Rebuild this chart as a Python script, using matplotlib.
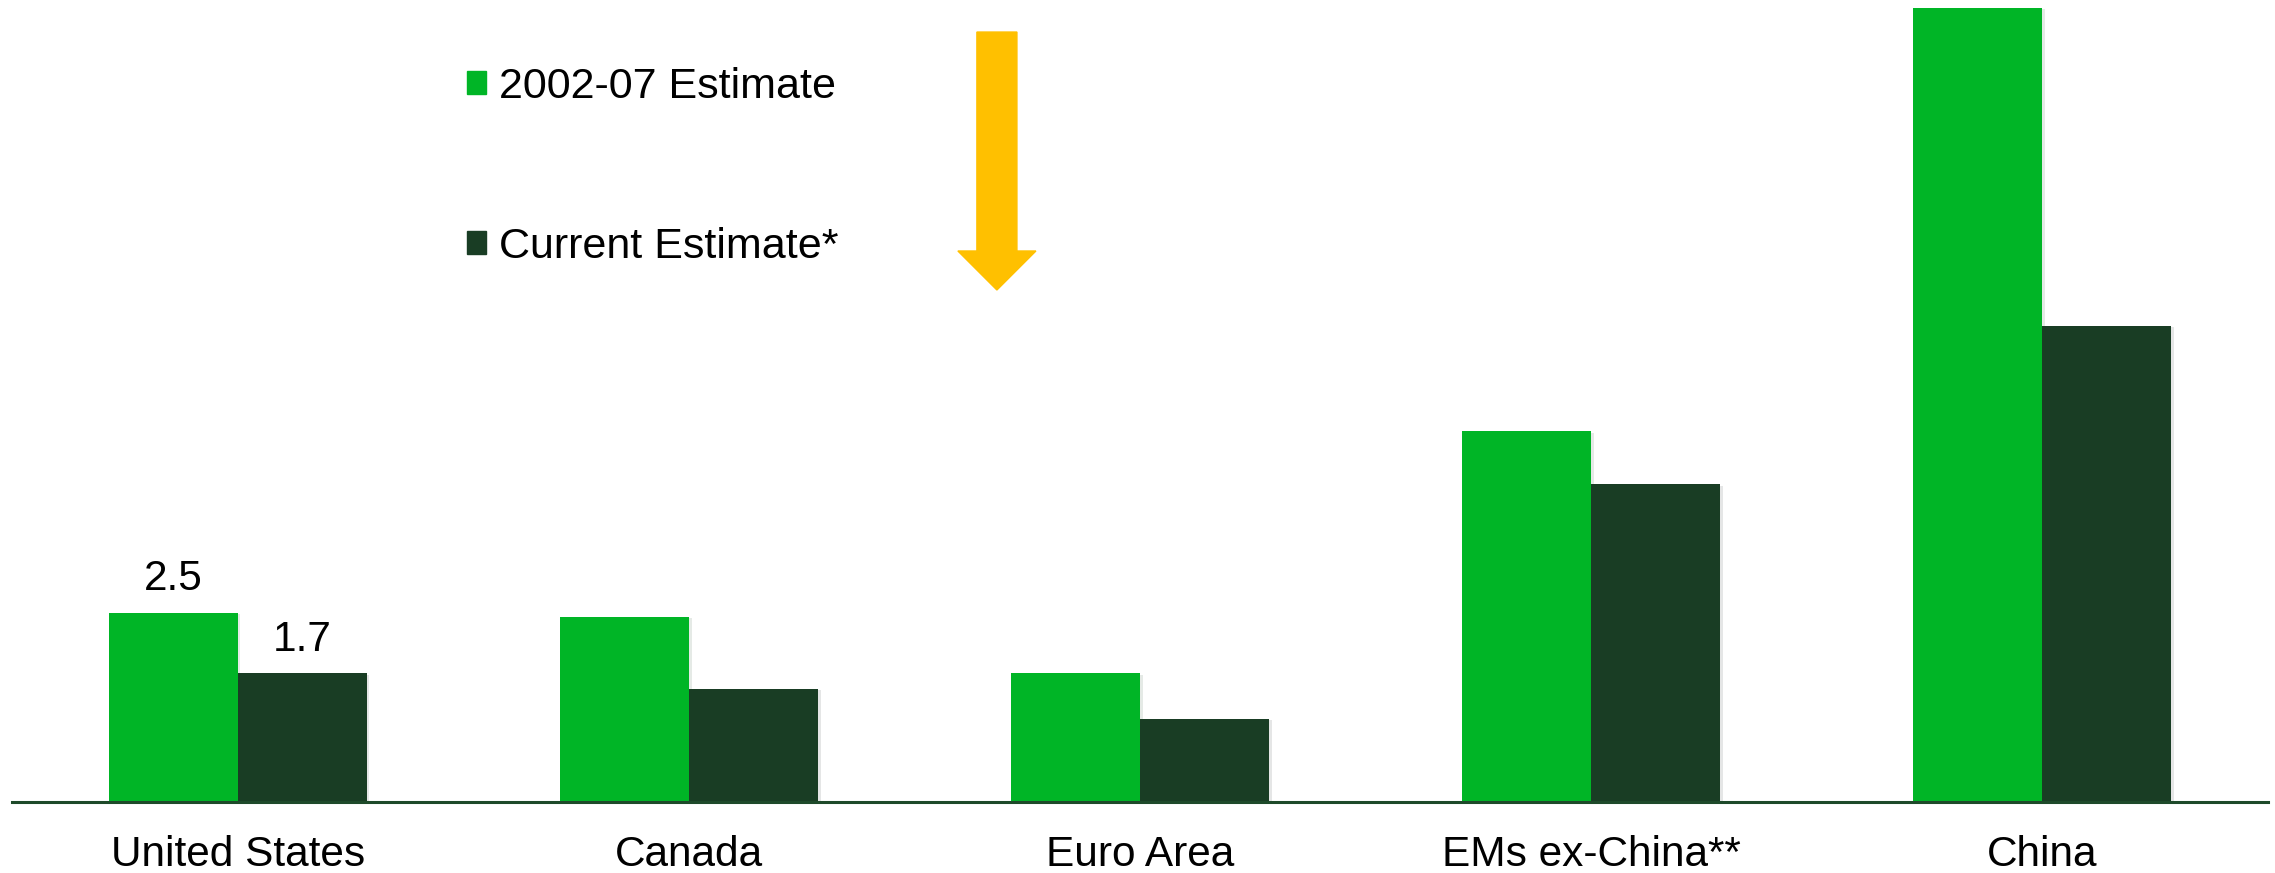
import matplotlib
matplotlib.use("Agg")
import matplotlib.pyplot as plt
import matplotlib.patheffects as pe
from matplotlib.patches import FancyArrow, Patch
import numpy as np

# ============================== Data
regions = ["United States", "Canada", "Euro Area", "EMs ex-China**", "China"]
est_2002_07 = [2.5, 2.45, 1.7, 4.9, 10.5]
est_current = [1.7, 1.5, 1.1, 4.2, 6.3]
series_labels = ["2002-07 Estimate", "Current Estimate*"]

LIGHT = "#00B526"
DARK = "#193D24"
ARROW = "#FFC000"

plt.rcParams["font.family"] = ["Liberation Sans", "DejaVu Sans"]

# ============================== Figure
fig = plt.figure(figsize=(22.75, 8.73), dpi=100)
ax = fig.add_axes([0.0053, 0.0813, 0.9916, 0.9095])

x = np.arange(len(regions))
w = 0.286
shadow = [pe.SimplePatchShadow(offset=(2, -1), alpha=0.1), pe.Normal()]
b1 = ax.bar(x - w / 2, est_2002_07, w, color=LIGHT, label=series_labels[0])
b2 = ax.bar(x + w / 2, est_current, w, color=DARK, label=series_labels[1])
for bar in list(b1) + list(b2):
    bar.set_path_effects(shadow)

# only the US bars carry value labels
ax.annotate(f"{est_2002_07[0]:.1f}", (x[0] - w / 2, est_2002_07[0]),
            xytext=(0, 10), textcoords="offset points",
            ha="center", va="bottom", fontsize=30.5)
ax.annotate(f"{est_current[0]:.1f}", (x[0] + w / 2, est_current[0]),
            xytext=(0, 10), textcoords="offset points",
            ha="center", va="bottom", fontsize=30.5)

ax.set_xlim(-0.5, len(regions) - 0.5)
ax.set_ylim(0, 10.5)
ax.set_xticks(x)
ax.set_xticklabels(regions, fontsize=30.5)
ax.tick_params(axis="x", length=0, pad=24)
ax.set_yticks([])
for s in ["top", "right", "left"]:
    ax.spines[s].set_visible(False)
ax.spines["bottom"].set_color("#1E4A2A")
ax.spines["bottom"].set_linewidth(2.2)

handles = [Patch(color=LIGHT), Patch(color=DARK)]
ax.legend(handles, series_labels, loc="upper left", bbox_to_anchor=(0.1845, 0.975),
          frameon=False, fontsize=31, handlelength=0.44, handleheight=0.44,
          handletextpad=0.3, labelspacing=2.8)

# yellow down arrow
arrow = FancyArrow(0.4382, 0.9633, 0, -0.2955, width=0.0176, head_width=0.0343,
                   head_length=0.0447, length_includes_head=True,
                   color=ARROW, transform=fig.transFigure)
fig.patches.append(arrow)

fig.savefig("out.png", dpi=100)
